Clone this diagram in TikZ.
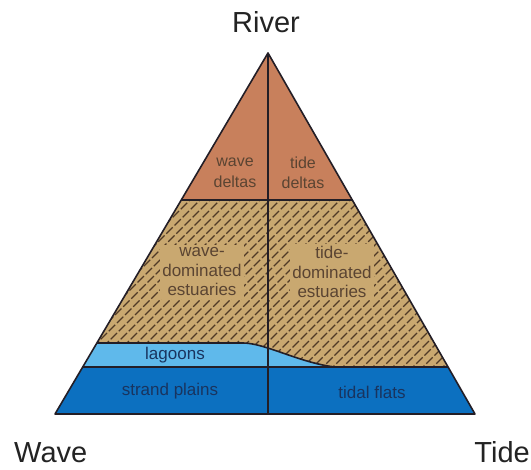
\documentclass[tikz,border=0pt]{standalone}
\usepackage{fontspec}
\setmainfont{Liberation Sans}
\definecolor{deltabrown}{RGB}{200,128,92}
\definecolor{estutan}{RGB}{201,168,112}
\definecolor{hatchc}{RGB}{80,58,38}
\definecolor{lagblue}{RGB}{95,185,235}
\definecolor{strandblue}{RGB}{12,112,192}
\definecolor{outline}{RGB}{35,30,38}
\definecolor{txtbrown}{RGB}{90,68,50}
\definecolor{txtnavy}{RGB}{25,52,95}
\definecolor{bigtxt}{RGB}{35,35,35}
\tikzset{
  inlbl/.style={align=center, inner sep=1pt, font=\fontsize{16}{20.5}\selectfont},
  estbox/.style={inlbl, fill=estutan, inner sep=2.5pt, text=txtbrown, font=\fontsize{17}{19.5}\selectfont},
  bluelbl/.style={inlbl, text=txtnavy, font=\fontsize{17}{20}\selectfont},
  biglbl/.style={text=bigtxt, inner sep=0pt, font=\fontsize{29}{32}\selectfont},
  edge/.style={draw=outline, line width=1.6pt, line join=round},
  hatchline/.style={hatchc, line width=1.1pt, dash pattern=on 9pt off 2.5pt}
}
\begin{document}
\begin{tikzpicture}[x=1pt,y=-1pt]
\useasboundingbox (0,0) rectangle (531,470);
% key points
\coordinate (A) at (268,53);
\coordinate (BL) at (55,414);
\coordinate (BR) at (475,414);
\coordinate (BM) at (268,414);
\coordinate (L1) at (181.3,200);
\coordinate (R1) at (352.3,200);
\coordinate (L2) at (96.9,343);
\coordinate (Lc) at (243,343);
\coordinate (Rc) at (335,367);
\coordinate (L3) at (82.7,367);
\coordinate (R3) at (448,367);
% deltas
\fill[deltabrown] (A) -- (R1) -- (L1) -- cycle;
% estuaries
\fill[estutan] (L1) -- (R1) -- (R3) -- (Rc) .. controls (300,363) and (265,343) .. (Lc) -- (L2) -- cycle;
\begin{scope}
\clip (L1) -- (R1) -- (R3) -- (Rc) .. controls (300,363) and (265,343) .. (Lc) -- (L2) -- cycle;
\foreach \i in {-200,-190,...,460} {
  \draw[hatchline] (\i,380) -- ++(200,-200);
}
\end{scope}
% lagoons
\fill[lagblue] (L2) -- (Lc) .. controls (265,343) and (300,363) .. (Rc) -- (L3) -- cycle;
% strand plains / tidal flats
\fill[strandblue] (L3) -- (R3) -- (BR) -- (BL) -- cycle;
% outlines
\draw[edge] (L1) -- (R1);
\draw[edge] (L2) -- (Lc) .. controls (265,343) and (300,363) .. (Rc);
\draw[edge] (L3) -- (R3);
\draw[edge] (A) -- (BM);
\draw[edge] (A) -- (BR) -- (BL) -- cycle;
% labels
\node[inlbl, text=txtbrown] (wd) at (235,173) {wave\\deltas};
\node[inlbl, text=txtbrown] (td) at (303,173) {tide\\deltas};
\node[estbox] (wde) at (202,272) {wave-\\dominated\\estuaries};
\node[estbox] (tde) at (332,272) {tide-\\dominated\\estuaries};
\node[bluelbl] (lag) at (175,355) {lagoons};
\node[bluelbl] (sp) at (170,391) {strand plains};
\node[bluelbl] (tf) at (372,392) {tidal flats};
\node[biglbl, anchor=base] (river) at (266,33) {River};
\node[biglbl, anchor=base west] (wave) at (14,463) {Wave};
\node[biglbl, anchor=base east] (tide) at (530,463) {Tide};
\end{tikzpicture}
\end{document}
